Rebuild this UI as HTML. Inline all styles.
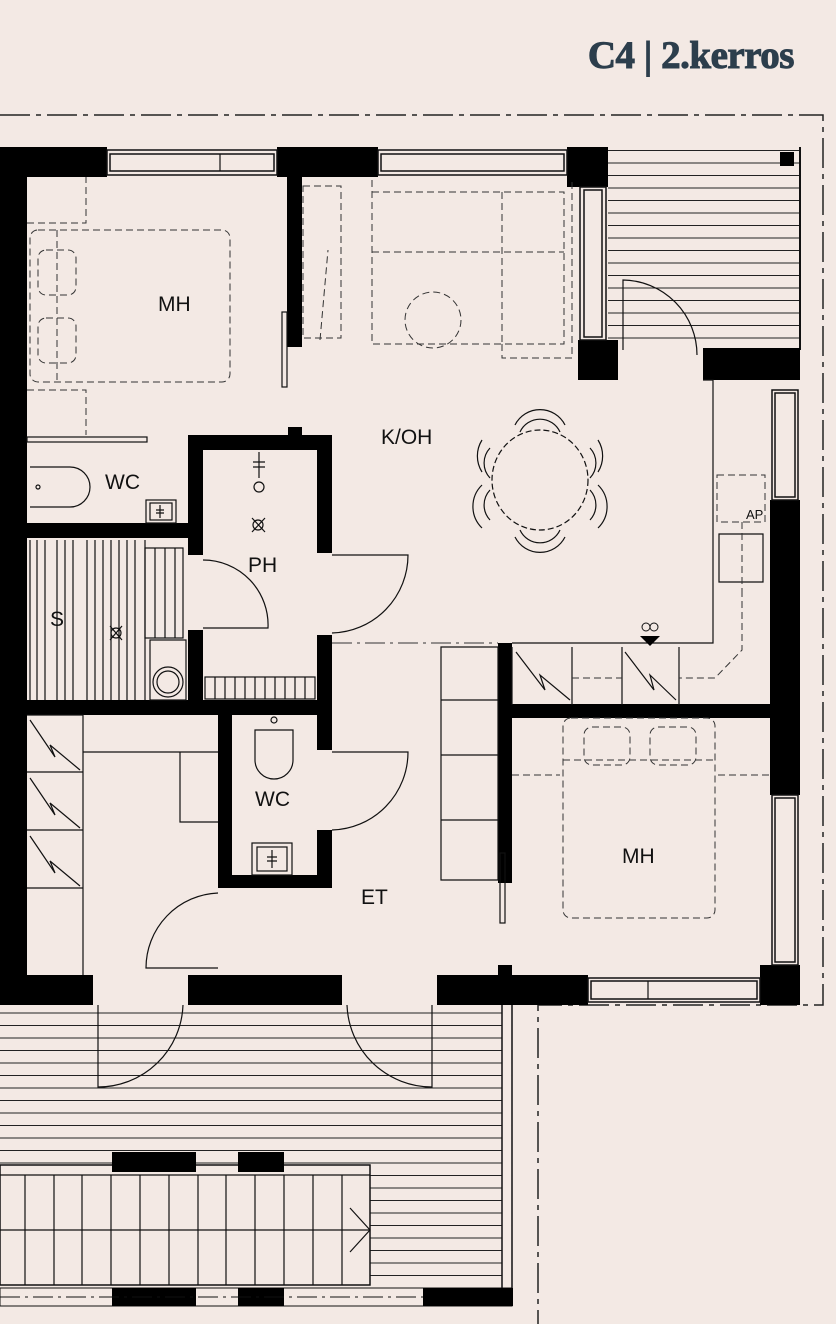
<!DOCTYPE html>
<html><head><meta charset="utf-8"><style>
html,body{margin:0;padding:0;background:#f3e9e4;}
svg{display:block}
text{font-family:"Liberation Sans",sans-serif;fill:#111}
</style></head><body>
<svg width="836" height="1324" viewBox="0 0 836 1324" xmlns="http://www.w3.org/2000/svg">
<defs>
<pattern id="hl" width="10" height="12.5" patternUnits="userSpaceOnUse"><line x1="0" y1="0.5" x2="10" y2="0.5" stroke="#222" stroke-width="1"/></pattern>
</defs>
<rect width="836" height="1324" fill="#f3e9e4"/>
<text x="794" y="68" text-anchor="end" style="font-family:'Liberation Serif',serif;font-weight:bold;font-size:39px;fill:#2c3e4c;letter-spacing:-0.5px;stroke:#2c3e4c;stroke-width:1">C4 | 2.kerros</text>

<path d="M0 115 H823 V1005 H538 V1324" fill="none" stroke="#222" stroke-width="1.5" stroke-dasharray="30 6 5 6"/>

<rect x="608" y="150" width="192" height="200" fill="url(#hl)"/>
<line x1="800" y1="147" x2="800" y2="350" stroke="#111" stroke-width="2"/>
<rect x="0" y="1005" width="502" height="285" fill="url(#hl)"/>
<line x1="502" y1="1005" x2="502" y2="1290" stroke="#111" stroke-width="1.5"/>
<line x1="512" y1="1005" x2="512" y2="1290" stroke="#111" stroke-width="1.5"/>
<rect x="0" y="1165" width="370" height="120" fill="#f3e9e4" stroke="#111" stroke-width="1.5"/>
<g stroke="#111" stroke-width="1.2">
<line x1="0" y1="1175" x2="370" y2="1175"/><line x1="0" y1="1230" x2="370" y2="1230"/>
<path d="M25 1175V1285M54 1175V1285M82 1175V1285M111 1175V1285M140 1175V1285M169 1175V1285M198 1175V1285M226 1175V1285M255 1175V1285M284 1175V1285M313 1175V1285M342 1175V1285"/>
<path d="M350 1208 L370 1230 L350 1252" fill="none"/>
</g>
<rect x="112" y="1152" width="84" height="20" fill="#000"/>
<rect x="238" y="1152" width="46" height="20" fill="#000"/>
<rect x="0" y="1288" width="512" height="18" fill="#f3e9e4" stroke="#111"/>
<rect x="112" y="1288" width="84" height="18" fill="#000"/>
<rect x="238" y="1288" width="46" height="18" fill="#000"/>
<rect x="423" y="1288" width="90" height="18" fill="#000"/>
<line x1="0" y1="1297" x2="423" y2="1297" stroke="#111" stroke-dasharray="20 5 3 5"/>

<g fill="#000">
<rect x="0" y="147" width="107" height="30"/>
<rect x="277" y="147" width="101" height="30"/>
<rect x="567" y="147" width="41" height="40"/>
<rect x="0" y="147" width="27" height="830"/>
<rect x="578" y="340" width="40" height="40"/>
<rect x="703" y="348" width="97" height="32"/>
<rect x="770" y="500" width="30" height="295"/>
<rect x="760" y="965" width="40" height="40"/>
<rect x="0" y="975" width="93" height="30"/>
<rect x="188" y="975" width="154" height="30"/>
<rect x="437" y="975" width="151" height="30"/>
<rect x="780" y="152" width="14" height="14"/>
<rect x="287" y="177" width="15" height="170"/>
<rect x="188" y="435" width="144" height="15"/>
<rect x="188" y="435" width="15" height="120"/>
<rect x="188" y="630" width="15" height="75"/>
<rect x="317" y="435" width="15" height="118"/>
<rect x="317" y="635" width="15" height="115"/>
<rect x="27" y="523" width="175" height="15"/>
<rect x="27" y="700" width="305" height="15"/>
<rect x="218" y="715" width="14" height="173"/>
<rect x="218" y="875" width="114" height="13"/>
<rect x="317" y="830" width="15" height="58"/>
<rect x="498" y="643" width="14" height="240"/>
<rect x="498" y="704" width="302" height="14"/>
<rect x="498" y="965" width="14" height="12"/>
<rect x="288" y="427" width="14" height="10"/>
</g>
<g fill="#f3e9e4" stroke="#111" stroke-width="1.5">
<rect x="107" y="150" width="170" height="25"/><rect x="110" y="154" width="164" height="17"/>
<rect x="378" y="150" width="189" height="25"/><rect x="381" y="154" width="183" height="17"/>
<rect x="580" y="187" width="26" height="153"/><rect x="584" y="190" width="18" height="147"/>
<rect x="772" y="390" width="26" height="110"/><rect x="775" y="393" width="20" height="104"/>
<rect x="772" y="795" width="26" height="170"/><rect x="775" y="798" width="20" height="164"/>
<rect x="588" y="978" width="172" height="24"/><rect x="591" y="981" width="166" height="18"/>
</g>
<g stroke="#111" stroke-width="1.2" fill="none">
<line x1="220" y1="154" x2="220" y2="171"/><line x1="648" y1="981" x2="648" y2="999"/>
<path d="M623 350 V280 A75 75 0 0 1 697 355"/>
<path d="M332 555 H408 A78 78 0 0 1 332 633"/>
<path d="M203 560 A65 65 0 0 1 268 628 H203"/>
<path d="M332 752 H408 A78 78 0 0 1 332 830"/>
<path d="M218 893 A75 75 0 0 0 146 968 H218"/>
<path d="M98 1005 V1087 A85 85 0 0 0 183 1005"/>
<path d="M432 1005 V1087 A85 85 0 0 1 347 1005"/>
<path d="M703 380 H713 V643 H512"/>
<path d="M441 647 H498 V880 H441 Z M441 700 H498 M441 755 H498 M441 820 H498"/>
<path d="M512 647 V705 M572 647 V705 M622 647 V705 M679 647 V705"/>
<path d="M516 652 L545 690 L540 675 L570 700"/>
<path d="M625 652 L654 690 L650 675 L676 700"/>
<path d="M719 534 H763 V582 H719 Z"/>
<path d="M27 715 H83 V975 M27 772 H83 M27 830 H83 M27 888 H83"/>
<path d="M30 720 L55 757 L50 745 L80 770 M30 778 L55 815 L50 803 L80 828 M30 836 L55 873 L50 861 L80 886"/>
<path d="M83 752 H218 M180 752 V822 H218"/>
<path d="M30 540 V700 M57 540 V700 M87 540 V700 M145 540 V700"/>
<path d="M37 540V700M45 540V700M65 540V700M73 540V700M95 540V700M103 540V700M111 540V700M119 540V700M127 540V700M135 540V700"/>
<rect x="145" y="548" width="38" height="90"/><path d="M155 548V638M165 548V638M175 548V638"/>
<circle cx="168" cy="682" r="15"/><circle cx="168" cy="682" r="11"/>
<rect x="150" y="640" width="36" height="60"/>
<rect x="205" y="677" width="110" height="22"/>
<path d="M215 677V699M225 677V699M235 677V699M245 677V699M255 677V699M265 677V699M275 677V699M285 677V699M295 677V699M305 677V699"/>
<path d="M30 467 H70 A20 20 0 0 1 70 507 H30" />
<circle cx="38" cy="487" r="2"/>
<rect x="146" y="500" width="30" height="23"/><rect x="150" y="503" width="22" height="17"/>
<path d="M160 505 V518 M156 510 H164 M156 513 H164"/>
<path d="M255 730 V760 A13 13 0 0 0 293 760 V730 Z"/>
<circle cx="274" cy="720" r="3"/>
<rect x="252" y="843" width="40" height="32"/><rect x="257" y="847" width="30" height="24"/>
<path d="M272 850 V868 M267 857 H277 M267 861 H277"/>
<path d="M259 452 V478 M253 462 H265 M253 467 H265"/><circle cx="259" cy="487" r="5"/>
<path d="M252 518 L265 532 M265 518 L252 532"/><circle cx="258" cy="525" r="5"/>
<path d="M110 626 L122 640 M122 626 L110 640"/><circle cx="116" cy="633" r="5"/>
<ellipse cx="540" cy="480" rx="48" ry="50" stroke-dasharray="6 3"/>
<path d="M520 432 A22 22 0 0 1 560 432 M515 425 A28 28 0 0 1 565 425"/>
<path d="M520 530 A22 22 0 0 0 560 530 M515 537 A28 28 0 0 0 565 537"/>
<path d="M490 448 A22 22 0 0 0 490 478 M482 440 A30 30 0 0 0 482 472"/>
<path d="M590 448 A22 22 0 0 1 590 478 M598 440 A30 30 0 0 1 598 472"/>
<path d="M490 490 A22 22 0 0 0 490 520 M482 485 A30 30 0 0 0 482 528"/>
<path d="M590 490 A22 22 0 0 1 590 520 M598 485 A30 30 0 0 1 598 528"/>
<rect x="282" y="312" width="5" height="75"/>
<rect x="27" y="437" width="120" height="5"/>
<rect x="500" y="853" width="5" height="70"/>
</g>
<g stroke="#333" stroke-width="1" fill="none" stroke-dasharray="7 4">
<rect x="30" y="230" width="200" height="152" rx="8"/>
<rect x="38" y="250" width="38" height="45" rx="8"/><rect x="38" y="318" width="38" height="45" rx="8"/>
<path d="M27 223 H86 V177 M27 390 H86 V435 M57 230 V382"/>
<rect x="303" y="186" width="38" height="152"/>
<path d="M320 340 L328 250"/>
<rect x="372" y="192" width="192" height="152"/>
<path d="M372 252 H564 M502 192 V344 M502 344 V358 H572 V180"/>
<path d="M372 180 V345"/>
<ellipse cx="433" cy="320" rx="28" ry="28"/>
<rect x="563" y="718" width="152" height="200" rx="8"/>
<rect x="584" y="727" width="46" height="38" rx="8"/><rect x="650" y="727" width="46" height="38" rx="8"/>
<path d="M563 760 H715 M512 775 H560 M718 775 H770"/>
<rect x="717" y="475" width="48" height="47"/>
<path d="M742 590 V650 L715 678 H679 M742 522 V590"/>
<path d="M332 643 H498" stroke-dasharray="20 5 3 5"/>
<path d="M572 678 H622"/>
</g>
<path d="M640 636 H660 L650 646 Z" fill="#000"/>
<circle cx="646" cy="627" r="4" fill="none" stroke="#111"/><circle cx="654" cy="627" r="4" fill="none" stroke="#111"/>
<g font-size="21">
<text x="158" y="311">MH</text>
<text x="381" y="444">K/OH</text>
<text x="105" y="489">WC</text>
<text x="248" y="572">PH</text>
<text x="50" y="626">S</text>
<text x="255" y="806">WC</text>
<text x="361" y="904">ET</text>
<text x="622" y="863">MH</text>
</g>
<text x="746" y="519" font-size="13">AP</text>
</svg>
</body></html>
